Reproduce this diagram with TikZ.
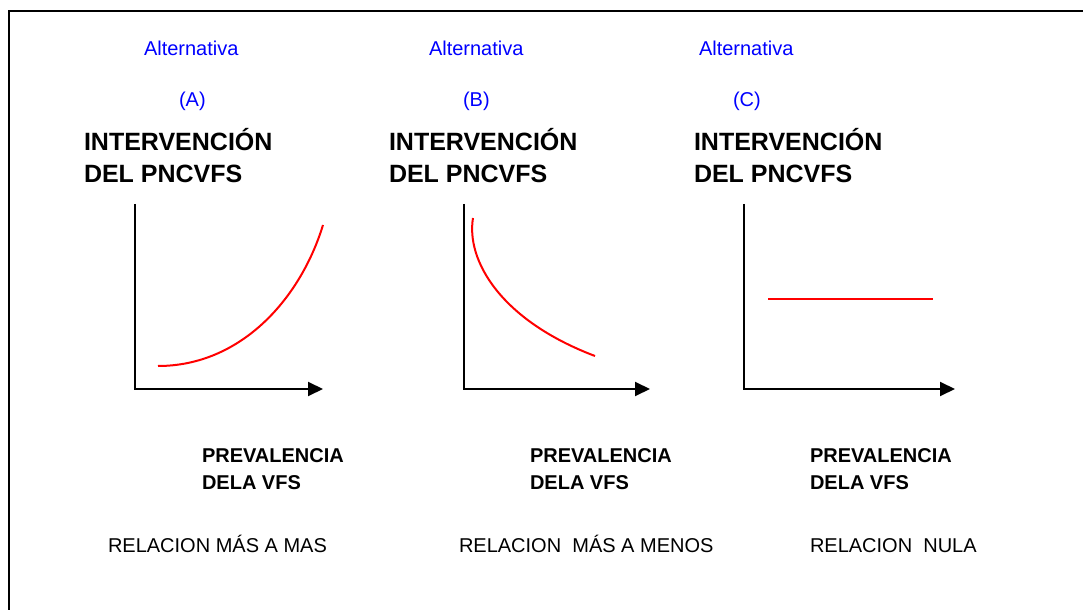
\documentclass[tikz,border=0pt]{standalone}
\usepackage{fontspec}
\setmainfont{Liberation Sans}
\usetikzlibrary{arrows.meta}

\begin{document}
\begin{tikzpicture}
	[x=0.5pt, y=-0.5pt, line width=1pt,
	alt/.style = {text=blue, font=\fontsize{10}{12}\selectfont, inner sep=0pt, anchor=base west},
	head/.style = {font=\bfseries\fontsize{12.5}{16}\selectfont, align=left, inner sep=0pt, anchor=base west},
	prev/.style = {font=\bfseries\fontsize{10}{13.5}\selectfont, align=left, inner sep=0pt, anchor=base west},
	rel/.style = {font=\fontsize{10}{12}\selectfont, inner sep=0pt, anchor=base west},
	axis/.style = {-{Triangle[length=7.5pt,width=7pt]}},
	curve/.style = {red}]
	\useasboundingbox (0,0) rectangle (1083,610);
	% frame
	\draw (1083,11) -- (9,11) -- (9,610);
	% titles
	\node[alt] (alt1) at (143,56) {Alternativa};
	\node[alt] (alt2) at (428,56) {Alternativa};
	\node[alt] (alt3) at (698,56) {Alternativa};
	\node[alt] (let1) at (178,107) {(A)};
	\node[alt] (let2) at (462,107) {(B)};
	\node[alt] (let3) at (732,107) {(C)};
	\node[head] (head1) at (83,183) {INTERVENCIÓN\\DEL PNCVFS};
	\node[head] (head2) at (388,183) {INTERVENCIÓN\\DEL PNCVFS};
	\node[head] (head3) at (693,183) {INTERVENCIÓN\\DEL PNCVFS};
	% axes
	\coordinate (y1) at (135,204);
	\coordinate (o1) at (135,389);
	\coordinate (x1) at (323,389);
	\coordinate (y2) at (464,204);
	\coordinate (o2) at (464,389);
	\coordinate (x2) at (650,389);
	\coordinate (y3) at (744,204);
	\coordinate (o3) at (744,389);
	\coordinate (x3) at (955,389);
	\draw[axis] (y1) -- (o1) -- (x1);
	\draw[axis] (y2) -- (o2) -- (x2);
	\draw[axis] (y3) -- (o3) -- (x3);
	% curves
	\coordinate (s1) at (158,366);
	\coordinate (e1) at (323,225);
	\coordinate (s2) at (473,218);
	\coordinate (e2) at (595,356);
	\coordinate (s3) at (768,299);
	\coordinate (e3) at (933,299);
	\draw[curve] (s1) .. controls (240,366) and (300,300) .. (e1);
	\draw[curve] (s2) .. controls (466,260) and (500,320) .. (e2);
	\draw[curve] (s3) -- (e3);
	% captions
	\node[prev] (prev1) at (201,489) {PREVALENCIA\\DELA VFS};
	\node[prev] (prev2) at (529,489) {PREVALENCIA\\DELA VFS};
	\node[prev] (prev3) at (809,489) {PREVALENCIA\\DELA VFS};
	\node[rel] (rel1) at (107,552) {RELACION MÁS A MAS};
	\node[rel] (rel2) at (458,552) {RELACION\ \ MÁS A MENOS};
	\node[rel] (rel3) at (809,552) {RELACION\ \ NULA};
\end{tikzpicture}
\end{document}
